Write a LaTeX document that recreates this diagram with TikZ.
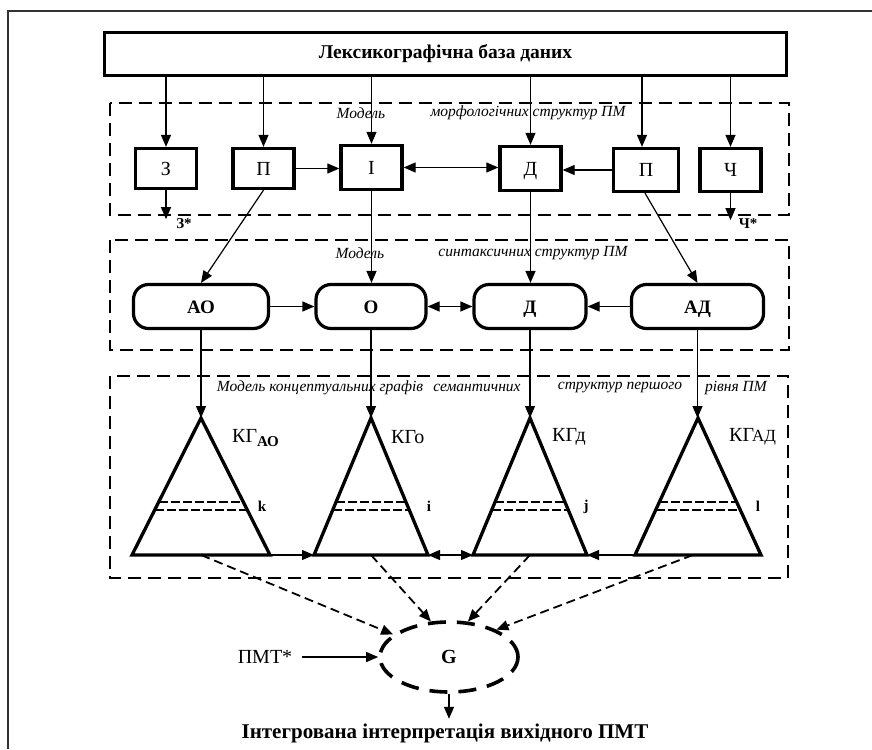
\documentclass[tikz,border=0pt]{standalone}
\usepackage{fontspec}
\setmainfont{Liberation Serif}
\usetikzlibrary{arrows.meta,calc,shapes.geometric}

\begin{document}
\begin{tikzpicture}[x=1pt,y=-1pt,
  tip/.tip={Triangle[length=12pt,width=10pt]},
  arr/.style={-tip, line width=1.2pt},
  darr/.style={tip-tip, line width=1.2pt},
  zone/.style={draw, line width=2pt, dash pattern=on 13pt off 7pt},
  mbox/.style={draw, line width=3.3pt, minimum width=61pt, minimum height=40pt,
    inner sep=0pt, text height=13.5pt, text depth=0pt, font=\fontsize{20}{20}\selectfont},
  sbox/.style={draw, line width=3.2pt, rounded corners=15pt, minimum height=44pt,
    inner sep=0pt, text height=13pt, text depth=0pt, font=\fontsize{19}{19}\selectfont\bfseries},
  tri/.style={draw, line width=3.3pt, line join=miter},
  level/.style={draw, line width=1.8pt, dash pattern=on 9pt off 3pt},
  zlabel/.style={font=\fontsize{15.5}{15.5}\selectfont\itshape, inner sep=0pt},
  kg/.style={font=\fontsize{20}{20}\selectfont, inner sep=0pt},
  idx/.style={font=\fontsize{15}{15}\selectfont\bfseries, inner sep=0pt},
  feed/.style={-tip, line width=1.8pt, dash pattern=on 9pt off 5pt},
  bigtext/.style={font=\fontsize{19.5}{19.5}\selectfont\bfseries, inner sep=0pt}
]
\useasboundingbox (0,0) rectangle (872,749);

% page frame
\draw[line width=1.3pt, black!80] (8,749) -- (8,11) -- (872,11);

% lexicographic database
\node[draw, line width=3.4pt, minimum width=682pt, minimum height=43pt, inner sep=0pt,
  bigtext] (db) at (445.5,54) {Лексикографічна база даних};

% ---------- morphological level ----------
\draw[zone] (110,103) rectangle (789,215);
\node[zlabel] (mlab1) at (361,113) {Модель};
\node[zlabel] (mlab2) at (528,113) {морфологічних структур ПМ};

\node[mbox] (z)  at (166,168.5) {З};
\node[mbox] (p1) at (263.5,168.5) {П};
\node[mbox, minimum height=44pt] (i) at (371.5,167.5) {І};
\node[mbox, minimum height=44pt] (d1) at (530.5,168.5) {Д};
\node[mbox, minimum width=65pt, minimum height=43pt] (p2) at (646,170) {П};
\node[mbox, minimum height=43pt] (ch) at (730.5,170) {Ч};

\foreach \n in {z,p1,i,d1,ch}
  \draw[arr] (\n |- db.south) -- (\n.north);
\draw[arr] ([xshift=-4pt]p2.north |- db.south) -- ([xshift=-4pt]p2.north);

\draw[arr] (p1.east) -- (p1.east -| i.west);
\draw[darr] (i.east) -- (i.east -| d1.west);
\draw[arr] (p2.west) -- (p2.west -| d1.east);

\draw[arr] (z.south) -- ++(0,29) coordinate (zend);
\node[idx] (zs) at (184,224) {З*};
\draw[arr] (ch.south) -- ++(0,27) coordinate (chend);
\node[idx] (chs) at (748,224) {Ч*};

% ---------- syntactic level ----------
\draw[zone] (110,240) rectangle (789,350);
\node[zlabel] (slab1) at (360,253) {Модель};
\node[zlabel] (slab2) at (533,253) {синтаксичних структур ПМ};

\node[sbox, minimum width=135pt] (ao) at (201,306.5) {АО};
\node[sbox, minimum width=110pt] (o)  at (371,306.5) {О};
\node[sbox, minimum width=112pt] (d2) at (530,306.5) {Д};
\node[sbox, minimum width=132pt] (ad) at (697.5,306.5) {АД};

\draw[arr] (p1.south) -- (ao.north);
\draw[arr] ([xshift=-1pt]p2.south) -- (ad.north);
\draw[arr] (i.south) -- (i.south |- o.north);
\draw[arr] (d1.south) -- (d1.south |- d2.north);

\draw[arr] (ao.east) -- (o.west);
\draw[darr] (o.east) -- (d2.west);
\draw[arr] (ad.west) -- (d2.east);

% ---------- semantic level ----------
\draw[zone] (110,376) rectangle (788,578);
\coordinate (zbl) at (110,578);
\node[zlabel] (clab1) at (320,388) {Модель концептуальних графів};
\node[zlabel] (clab2) at (477,388) {семантичних};
\node[zlabel] (clab3) at (620,388) {структур першого};
\node[zlabel] (clab4) at (736,388) {рівня ПМ};

% conceptual graph triangles
\foreach \t/\cx/\hw in {1/201/69, 2/371/57, 3/530/57, 4/698/63}{
  \coordinate (t\t a) at (\cx,418);
  \coordinate (t\t l) at (\cx-\hw,555);
  \coordinate (t\t r) at (\cx+\hw,555);
  \coordinate (t\t m) at (\cx,555);
  \draw[tri] (t\t a) -- (t\t l) -- (t\t r) -- cycle;
  \draw[level] ($(t\t a)!0.612!(t\t l)$) -- ($(t\t a)!0.612!(t\t r)$);
  \draw[level] ($(t\t a)!0.670!(t\t l)$) -- ($(t\t a)!0.670!(t\t r)$);
}

\node[kg, anchor=west] (kg1) at (232,438) {КГ\raisebox{-4pt}{\fontsize{15}{15}\selectfont\bfseries АО}};
\node[kg, anchor=west] (kg2) at (391,437) {КГо};
\node[kg, anchor=west] (kg3) at (552,437) {КГд};
\node[kg, anchor=west] (kg4) at (729,437) {КГ\kern-2pt{\fontsize{17}{17}\selectfont АД}};

\node[idx] (k) at (262,506) {k};
\node[idx] (ii) at (429,506) {i};
\node[idx] (jj) at (586,507) {j};
\node[idx] (ll) at (758,506) {l};

\draw[arr] (ao.south) -- (ao.south |- t1a);
\draw[arr] (o.south) -- (o.south |- t2a);
\draw[arr] (d2.south) -- (d2.south |- t3a);
\draw[arr] (ad.south) -- (ad.south |- t4a);

\draw[arr] (t1r) -- (t2l);
\draw[darr] (t2r) -- (t3l);
\draw[arr] (t4l) -- (t3r);

% ---------- integration ----------
\node[ellipse, draw, line width=3.6pt, dash pattern=on 18pt off 11pt,
  minimum width=138pt, minimum height=70pt, inner sep=0pt,
  font=\fontsize{20}{20}\selectfont\bfseries] (g) at (449,657) {G};

% links from the graphs: solid inside the zone, dashed outside it
\coordinate (t4m) at (693,555);
\foreach \t/\ang in {1/158, 2/117, 3/62, 4/30}{
  \path let \p1=(t\t m), \p2=(g.\ang), \p3=(zbl) in
    ($(\p1)!{(\y3-\y1)/(\y2-\y1)}!(\p2)$) coordinate (s\t);
  \draw[line width=1.2pt] (t\t m) -- (s\t);
  \draw[feed] (s\t) -- (g.\ang);
}

\node[font=\fontsize{20}{20}\selectfont, inner sep=0pt] (pmt) at (265,657) {ПМТ*};
\draw[arr] (302,657) -- (g.west);

\draw[arr] (g.south) -- ++(0,25) coordinate (gout);
\node[font=\fontsize{21}{21}\selectfont\bfseries, inner sep=0pt] (res) at (445,733)
  {Інтегрована інтерпретація вихідного ПМТ};
\end{tikzpicture}
\end{document}
